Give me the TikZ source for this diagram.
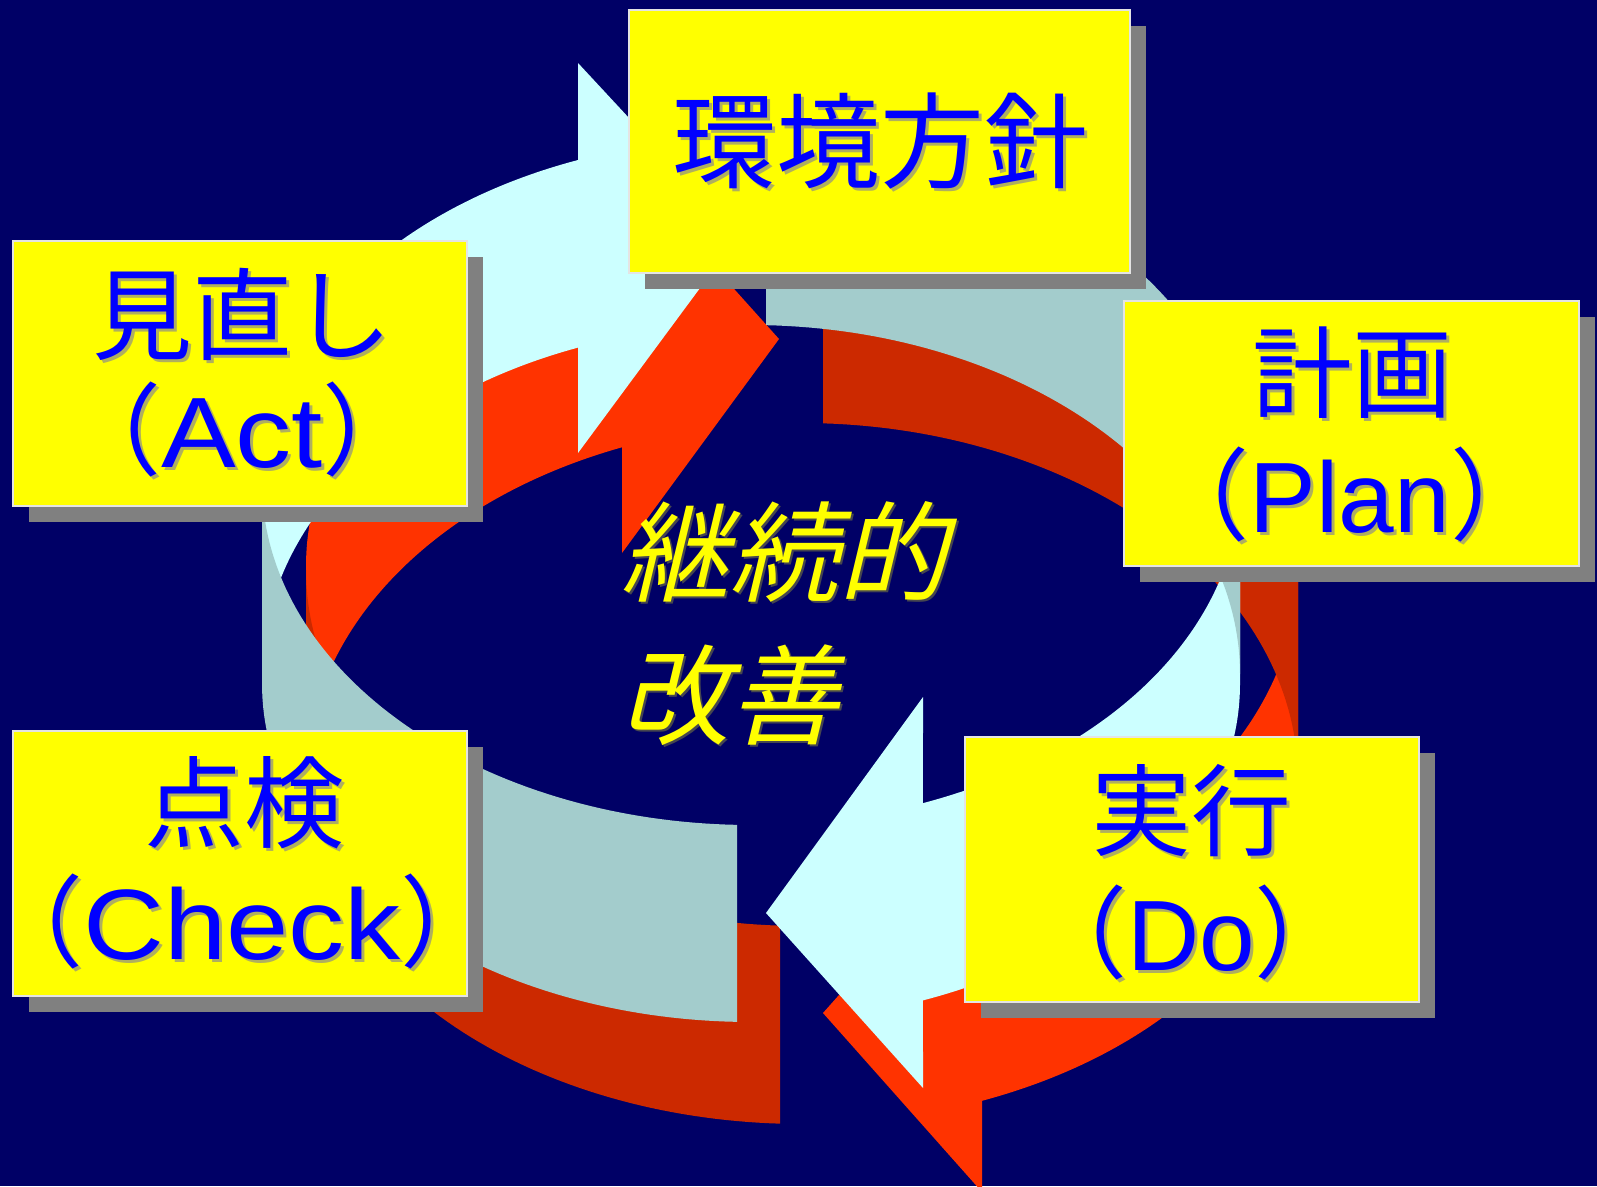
\documentclass[tikz,border=0pt]{standalone}
\usepackage{fontspec}
\setmainfont{Liberation Sans}
\newfontfamily\latinwide[FakeStretch=1.12]{Liberation Sans}
\newfontfamily\jp{Noto Sans CJK JP}
\newfontfamily\jpbr[RawFeature=+halt]{Noto Sans CJK JP}
\newfontfamily\jpit[FakeSlant=0.24]{Noto Sans CJK JP}

\definecolor{bgnavy}{RGB}{0,0,102}
\definecolor{cyL}{RGB}{204,255,255}
\definecolor{cyD}{RGB}{163,204,204}
\definecolor{rdL}{RGB}{255,51,0}
\definecolor{rdD}{RGB}{204,41,0}
\definecolor{boxyellow}{RGB}{255,255,0}
\definecolor{boxshadow}{RGB}{128,128,128}
\definecolor{boxrim}{RGB}{228,228,228}
\definecolor{txtblue}{RGB}{0,0,255}
\definecolor{txtshade}{RGB}{175,175,95}
\definecolor{midyellow}{RGB}{255,255,0}
\definecolor{midshade}{RGB}{70,70,80}

% text with a small drop shadow to the lower right
\newcommand{\dropshade}[3][3pt]{\makebox[0pt][l]{\hspace*{#1}\raisebox{-#1}[0pt][0pt]{\color{#2}#3}}#3}
% brackets in their half-width form, so their boxes hug the ink
\newcommand{\jparen}[1]{{\jpbr （}#1{\jpbr ）}}

\begin{document}
\begin{tikzpicture}[x=1pt,y=-1pt,variable=\t,samples=70,
  card/.style={rectangle, fill=boxyellow, draw=boxrim, line width=2pt, inner sep=0pt},
  cardshade/.style={rectangle, fill=boxshadow, inner sep=0pt},
  label jp/.style={inner sep=0pt, text=txtblue, font=\fontsize{100}{120}\selectfont},
  mid jp/.style={inner sep=0pt, text=midyellow, anchor=west, font=\fontsize{109}{120}\selectfont\jpit},
]
\useasboundingbox (0,0) rectangle (1597,1186);
\fill[bgnavy] (0,0) rectangle (1597,1186);

% ---------- red ring (lower) ----------
% left arrow, inner face at the back, head pointing right at the top
\fill[rdL] plot[domain=180:248.72] ({802+496*cos(\t)},{566+350*sin(\t)})
  -- (622,164) -- (779,339) -- (622,553)
  -- plot[domain=248.72:180] ({802+496*cos(\t)},{779+356*sin(\t)}) -- cycle;
% left arrow, outer face at the front (tail)
\fill[rdD] plot[domain=180:92.54] ({802+496*cos(\t)},{570+356*sin(\t)})
  -- plot[domain=92.54:180] ({802+496*cos(\t)},{784+340*sin(\t)}) -- cycle;
% right arrow, outer face at the front, head pointing left at the bottom
\fill[rdL] plot[domain=68.72:0] ({802+496*cos(\t)},{570+356*sin(\t)})
  -- plot[domain=0:68.72] ({802+496*cos(\t)},{784+340*sin(\t)})
  -- (982,1192) -- (823,1013) -- (982,834) -- cycle;
% right arrow, inner face at the back (tail)
\fill[rdD] plot[domain=272.43:360] ({802+496*cos(\t)},{566+350*sin(\t)})
  -- plot[domain=360:272.43] ({802+496*cos(\t)},{779+356*sin(\t)}) -- cycle;

% ---------- cyan ring (upper) ----------
\fill[cyL] plot[domain=180:249.28] ({751+489*cos(\t)},{478+340*sin(\t)})
  -- (578,63) -- (738.5,236) -- (578,453)
  -- plot[domain=249.28:180] ({751+489*cos(\t)},{674+349*sin(\t)}) -- cycle;
\fill[cyD] plot[domain=180:91.64] ({751+489*cos(\t)},{483+342*sin(\t)})
  -- plot[domain=91.64:180] ({751+489*cos(\t)},{684+338*sin(\t)}) -- cycle;
\fill[cyL] plot[domain=69.41:0] ({751+489*cos(\t)},{483+342*sin(\t)})
  -- plot[domain=0:69.41] ({751+489*cos(\t)},{684+338*sin(\t)})
  -- (923,1088) -- (766,913) -- (923,697) -- cycle;
\fill[cyD] plot[domain=271.76:360] ({751+489*cos(\t)},{478+340*sin(\t)})
  -- plot[domain=360:271.76] ({751+489*cos(\t)},{674+349*sin(\t)}) -- cycle;

% ---------- centre caption ----------
\node[mid jp] (cont-1) at (620,552) {\dropshade[2pt]{midshade}{継続的}};
\node[mid jp] (cont-2) at (620,695) {\dropshade[2pt]{midshade}{改善}};

% ---------- stage cards ----------
\node[cardshade, minimum width=501pt, minimum height=263pt] (policy-shade) at (895.5,157.5) {};
\node[card, minimum width=501pt, minimum height=263pt] (policy) at (879.5,141.5) {};
\node[label jp, font=\fontsize{104}{120}\selectfont] (policy-text) at (880,141) {\dropshade{txtshade}{\jp 環境方針}};

\node[cardshade, minimum width=454pt, minimum height=265pt] (act-shade) at (256,389.5) {};
\node[card, minimum width=454pt, minimum height=265pt] (act) at (240,373.5) {};
\node[label jp] (act-1) at (242,314) {\dropshade{txtshade}{\jp 見直し}};
\node[label jp] (act-2) at (242,429) {\dropshade{txtshade}{\jparen{{\latinwide Act}}}};

\node[cardshade, minimum width=455pt, minimum height=265pt] (plan-shade) at (1367.5,449.5) {};
\node[card, minimum width=455pt, minimum height=265pt] (plan) at (1351.5,433.5) {};
\node[label jp] (plan-1) at (1352,373) {\dropshade{txtshade}{\jp 計画}};
\node[label jp] (plan-2) at (1350,494) {\dropshade{txtshade}{\jparen{Plan}}};

\node[cardshade, minimum width=454pt, minimum height=265pt] (check-shade) at (256,879.5) {};
\node[card, minimum width=454pt, minimum height=265pt] (check) at (240,863.5) {};
\node[label jp] (check-1) at (244,803) {\dropshade{txtshade}{\jp 点検}};
\node[label jp] (check-2) at (242,921) {\dropshade{txtshade}{\jparen{{\latinwide Check}}}};

\node[cardshade, minimum width=454pt, minimum height=265pt] (do-shade) at (1207.6,885.8) {};
\node[card, minimum width=454pt, minimum height=265pt] (do) at (1191.6,869.8) {};
\node[label jp] (do-1) at (1191,811) {\dropshade{txtshade}{\jp 実行}};
\node[label jp] (do-2) at (1191,932) {\dropshade{txtshade}{\jparen{Do}}};
\end{tikzpicture}
\end{document}
